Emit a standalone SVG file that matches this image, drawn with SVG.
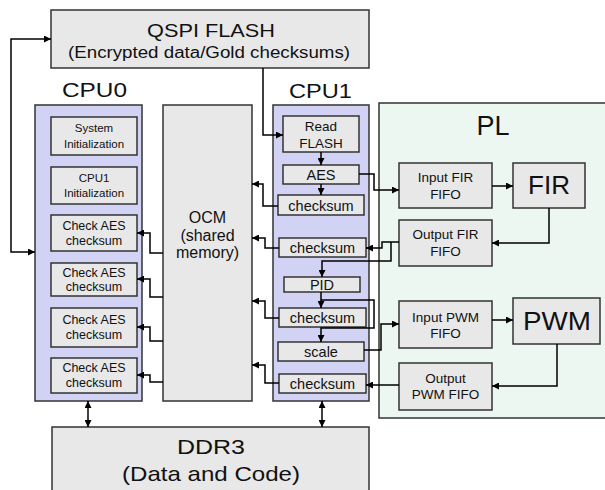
<svg xmlns="http://www.w3.org/2000/svg" width="605" height="490" viewBox="0 0 605 490">
<defs>
<marker id="ah" viewBox="0 0 10 10" refX="10" refY="5" markerWidth="7" markerHeight="7" markerUnits="userSpaceOnUse" orient="auto-start-reverse"><path d="M0,0 L10,5 L0,10 z" fill="#000"/></marker>
</defs>
<style>
.box{fill:#E8E8E8;stroke:#333;stroke-width:1.5}
.cpu{fill:#D2D2F4;stroke:#333;stroke-width:1.5}
.pl{fill:#EDF7F1;stroke:#333;stroke-width:1.5}
text{font-family:"Liberation Sans",Arial,sans-serif;fill:#111;text-anchor:middle}
.c{fill:none;stroke:#000;stroke-width:1.5;marker-end:url(#ah)}
.d{fill:none;stroke:#000;stroke-width:1.5;marker-end:url(#ah);marker-start:url(#ah)}
.s{font-size:11.5px}
.m{font-size:12.5px}
.f{font-size:13.5px}
.k{font-size:14.5px}
</style>
<rect width="605" height="490" fill="#fff"/>
<g id="pl"><rect class="pl" x="379" y="103" width="240" height="315"/><text x="493" y="135" style="font-size:27px">PL</text></g>
<g id="qspi"><rect class="box" x="51" y="10" width="318" height="58"/><text x="211" y="37" style="font-size:18px" textLength="128" lengthAdjust="spacingAndGlyphs">QSPI FLASH</text><text x="209" y="58" style="font-size:16px" textLength="282" lengthAdjust="spacingAndGlyphs">(Encrypted data/Gold checksums)</text></g>
<g id="cpu0"><rect class="cpu" x="35" y="105" width="107" height="296"/><text x="94.5" y="97" style="font-size:20px" textLength="65" lengthAdjust="spacingAndGlyphs">CPU0</text></g>
<g id="sysinit"><rect class="box" x="51" y="117" width="86" height="38"/><text class="s" x="94" y="132">System</text><text class="s" x="94" y="148">Initialization</text></g>
<g id="cpu1init"><rect class="box" x="51" y="167" width="86" height="37"/><text class="s" x="94" y="182">CPU1</text><text class="s" x="94" y="197">Initialization</text></g>
<g id="chk0a"><rect class="box" x="51" y="215" width="86" height="36"/><text class="m" x="94" y="230">Check AES</text><text class="m" x="94" y="245">checksum</text></g>
<g id="chk0b"><rect class="box" x="51" y="263" width="86" height="33"/><text class="m" x="94" y="277">Check AES</text><text class="m" x="94" y="291">checksum</text></g>
<g id="chk0c"><rect class="box" x="51" y="308" width="86" height="39"/><text class="m" x="94" y="324">Check AES</text><text class="m" x="94" y="339">checksum</text></g>
<g id="chk0d"><rect class="box" x="51" y="358" width="86" height="35"/><text class="m" x="94" y="372">Check AES</text><text class="m" x="94" y="387">checksum</text></g>
<g id="ocm"><rect class="box" x="163" y="105" width="89" height="296"/><text x="207.5" y="223" style="font-size:16px">OCM</text><text x="207.5" y="241" style="font-size:16px">(shared</text><text x="207.5" y="258" style="font-size:16px">memory)</text></g>
<g id="cpu1"><rect class="cpu" x="273" y="105" width="96" height="296"/><text x="320.5" y="98" style="font-size:20px" textLength="63" lengthAdjust="spacingAndGlyphs">CPU1</text></g>
<g id="readflash"><rect class="box" x="283" y="116" width="76" height="36"/><text class="f" x="321" y="131">Read</text><text class="f" x="321" y="148">FLASH</text></g>
<g id="aes"><rect class="box" x="283" y="165" width="76" height="19"/><text class="k" x="321" y="180">AES</text></g>
<g id="chk1a"><rect class="box" x="278" y="195" width="86" height="20"/><text class="k" x="321" y="210.5">checksum</text></g>
<g id="chk1b"><rect class="box" x="279" y="238" width="87" height="19"/><text class="k" x="322.5" y="253">checksum</text></g>
<g id="pid"><rect class="box" x="284" y="277" width="76" height="15"/><text class="k" x="322" y="290">PID</text></g>
<g id="chk1c"><rect class="box" x="279" y="308" width="87" height="19"/><text class="k" x="322.5" y="323">checksum</text></g>
<g id="scale"><rect class="box" x="278" y="342" width="86" height="19"/><text class="k" x="321" y="357">scale</text></g>
<g id="chk1d"><rect class="box" x="279" y="374" width="87" height="19"/><text class="k" x="322.5" y="389">checksum</text></g>
<g id="infir"><rect class="box" x="399" y="163" width="93" height="45"/><text class="f" x="445.5" y="182">Input FIR</text><text class="f" x="445.5" y="199">FIFO</text></g>
<g id="fir"><rect class="box" x="513" y="163" width="72" height="45"/><text x="549" y="194" style="font-size:26px">FIR</text></g>
<g id="outfir"><rect class="box" x="399" y="220" width="93" height="46"/><text class="f" x="445.5" y="239">Output FIR</text><text class="f" x="445.5" y="256">FIFO</text></g>
<g id="inpwm"><rect class="box" x="399" y="301" width="93" height="47"/><text class="f" x="445.5" y="322">Input PWM</text><text class="f" x="445.5" y="338">FIFO</text></g>
<g id="pwm"><rect class="box" x="513" y="298" width="87" height="46"/><text x="557" y="330" style="font-size:26px" textLength="68" lengthAdjust="spacingAndGlyphs">PWM</text></g>
<g id="outpwm"><rect class="box" x="399" y="363" width="93" height="47"/><text class="f" x="445.5" y="383">Output</text><text class="f" x="445.5" y="399">PWM FIFO</text></g>
<g id="ddr3"><rect class="box" x="52" y="427" width="317" height="80"/><text x="211" y="454" style="font-size:21px" textLength="68" lengthAdjust="spacingAndGlyphs">DDR3</text><text x="211" y="481" style="font-size:21px" textLength="178" lengthAdjust="spacingAndGlyphs">(Data and Code)</text></g>
<g id="connectors">
<path class="d" d="M35,252 H11 V39 H51"/>
<path class="c" d="M263,68 V135 H283"/>
<path class="c" d="M321,152 V165"/>
<path class="c" d="M321,184 V195"/>
<path class="c" d="M359,174 H374 V190 H399"/>
<path class="c" d="M278,206 H263 V184 H252"/>
<path class="c" d="M279,248 H265 V238 H252"/>
<path class="c" d="M279,318 H265 V301 H252"/>
<path class="c" d="M279,383 H265 V365 H252"/>
<path class="c" d="M163,253 H150 V233 H137"/>
<path class="c" d="M163,297 H150 V279 H137"/>
<path class="c" d="M163,341 H150 V327 H137"/>
<path class="c" d="M163,382 H150 V375 H137"/>
<path class="c" d="M492,186 H513"/>
<path class="c" d="M549,208 V243 H492"/>
<path class="c" d="M399,242 H382 V248 H366"/>
<path class="c" d="M391,242 V261 H322 V277"/>
<path class="c" d="M321,292 V308"/>
<path class="c" d="M321,300 H374 V328 H321 V342"/>
<path class="c" d="M364,350 H381 V324 H399"/>
<path class="c" d="M492,320 H513"/>
<path class="c" d="M557,344 V386 H492"/>
<path class="c" d="M399,385 H366"/>
<path class="d" d="M88,401 V427"/>
<path class="d" d="M322,401 V427"/>
</g>
</svg>
